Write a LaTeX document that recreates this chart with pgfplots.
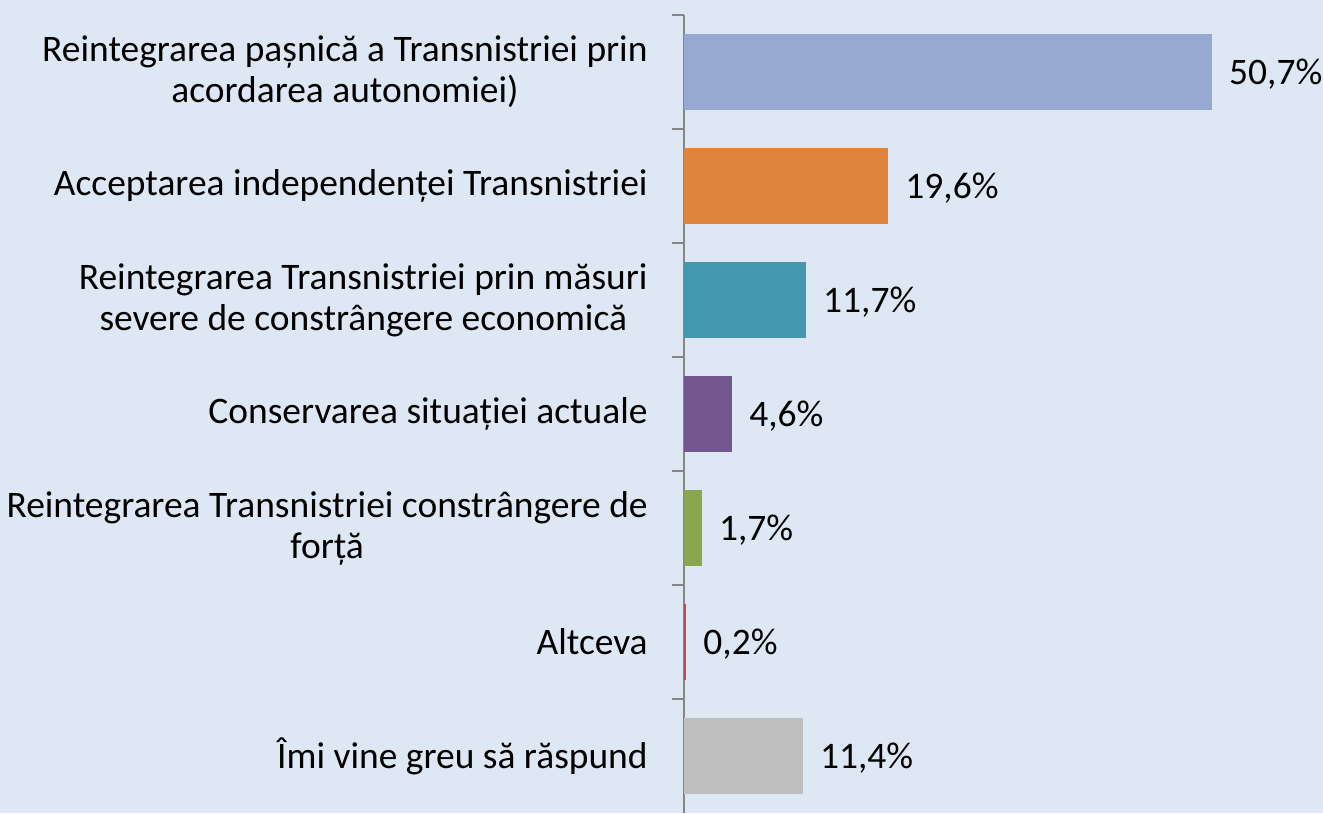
\documentclass[border=0pt]{standalone}
\usepackage{pgfplots}
\pgfplotsset{compat=1.18}
\usepackage{fontspec}
\setmainfont{Carlito}
\definecolor{bg}{HTML}{DEE8F4}
\definecolor{axgray}{HTML}{868686}
\definecolor{c1}{HTML}{95A9D1}
\definecolor{c2}{HTML}{DD843F}
\definecolor{c3}{HTML}{4398AF}
\definecolor{c4}{HTML}{75578F}
\definecolor{c5}{HTML}{8AA64E}
\definecolor{c6}{HTML}{B84D4A}
\definecolor{c7}{HTML}{BFBFBF}
\begin{document}
\begin{tikzpicture}[x=1bp,y=1bp]
\fill[bg] (0,0) rectangle (661.5,406.5);
\useasboundingbox (0,0) rectangle (661.5,406.5);
\begin{axis}[
  at={(342bp,0bp)}, anchor=south west,
  scale only axis, width=312.3bp, height=399bp,
  xmin=0, xmax=60, ymin=-0.5, ymax=6.5, y dir=reverse,
  hide x axis, axis y line*=left, clip=false,
  axis line style={draw=axgray, line width=0.75bp},
  ytick={0,...,6},
  yticklabels={
    {Reintegrarea pașnică a Transnistriei prin\\acordarea autonomiei)},
    {Acceptarea independenței Transnistriei},
    {Reintegrarea Transnistriei prin măsuri\\severe de constrângere economică},
    {Conservarea situației actuale},
    {Reintegrarea Transnistriei constrângere de\\forță},
    {Altceva},
    {Îmi vine greu să răspund}},
  major tick length=0pt,
  yticklabel style={font=\fontsize{18.8}{20.5}\selectfont, align=center, inner sep=0pt, xshift=-18bp},
  extra y ticks={-0.5,0.5,1.5,2.5,3.5,4.5,5.5},
  extra y tick labels={},
  extra y tick style={major tick length=6bp, tick align=outside, tick style={draw=axgray, line width=0.75bp}},
  xbar, bar width=38bp, bar shift=0pt,
  nodes near coords, point meta=explicit symbolic,
  nodes near coords style={font=\fontsize{18.8}{20}\selectfont, anchor=west, inner sep=0pt, xshift=8.5bp, yshift=-1bp},
]
\addplot[draw=none, fill=c1] coordinates {(50.7,0) [50,7\%]};
\addplot[draw=none, fill=c2] coordinates {(19.6,1) [19,6\%]};
\addplot[draw=none, fill=c3] coordinates {(11.7,2) [11,7\%]};
\addplot[draw=none, fill=c4] coordinates {(4.6,3) [4,6\%]};
\addplot[draw=none, fill=c5] coordinates {(1.7,4) [1,7\%]};
\addplot[draw=none, fill=c6] coordinates {(0.2,5) [0,2\%]};
\addplot[draw=none, fill=c7] coordinates {(11.4,6) [11,4\%]};
\end{axis}
\end{tikzpicture}
\end{document}
